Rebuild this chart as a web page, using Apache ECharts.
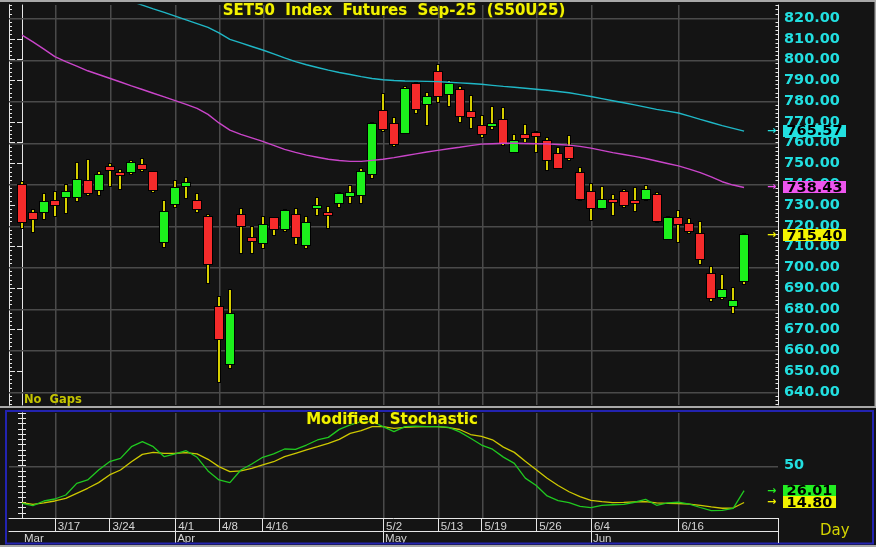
<!DOCTYPE html>
<html><head><meta charset="utf-8">
<script src="https://cdn.jsdelivr.net/npm/echarts@6/dist/echarts.min.js"></script>
<style>html,body{margin:0;padding:0;background:#141414;}#c{width:876px;height:547px;}</style>
</head><body><div id="c"></div>
<script>
// ---------- DATA ----------
const dates = ['3/12','3/13','3/14','3/17','3/18','3/19','3/20','3/21','3/24','3/25','3/26','3/27','3/28','3/31','4/1','4/2','4/3','4/4','4/8','4/9','4/10','4/11','4/16','4/17','4/18','4/21','4/22','4/23','4/24','4/25','4/28','4/29','4/30','5/2','5/6','5/7','5/8','5/9','5/13','5/14','5/15','5/16','5/19','5/20','5/21','5/22','5/23','5/26','5/27','5/28','5/29','5/30','6/4','6/5','6/6','6/9','6/10','6/11','6/12','6/13','6/16','6/17','6/18','6/19','6/20','6/23','6/24'];
const opens  = [739.6,726.0,726.6,732.1,733.7,733.7,741.6,737.2,748.1,745.2,746.0,749.3,746.0,712.2,730.6,739.3,732.1,724.1,680.9,653.6,725.0,714.2,711.7,723.6,718.5,725.0,710.8,728.7,726.2,731.1,734.3,734.8,744.8,775.2,769.0,764.8,788.1,778.8,794.2,783.4,785.2,774.6,768.0,768.2,771.1,755.7,763.7,764.7,761.0,754.6,758.1,745.3,736.3,728.7,732.4,736.1,731.9,733.0,734.7,713.8,723.6,721.0,716.1,696.9,685.7,681.3,693.6];
const closes = [721.7,723.3,731.6,730.2,736.1,742.0,735.6,744.6,746.7,744.6,750.1,747.2,737.2,726.6,738.0,740.6,728.2,701.8,665.4,677.6,719.8,712.9,720.5,718.3,727.1,714.8,721.5,729.7,725.2,735.1,735.6,746.0,768.8,766.7,759.2,785.7,776.1,782.1,782.5,788.1,772.8,772.4,764.3,769.2,760.0,760.6,762.3,763.2,751.8,747.7,752.8,732.8,728.7,732.4,731.3,730.2,731.4,737.1,722.3,723.6,720.7,717.7,704.2,685.3,689.0,684.0,715.4];
const lows   = [719.1,717.2,723.3,724.7,726.2,732.1,735.0,734.7,739.2,737.6,745.1,746.2,736.1,709.6,728.9,733.2,726.6,692.3,644.7,651.7,706.8,706.8,709.2,715.7,717.7,711.2,709.2,725.2,718.8,729.2,731.1,731.1,742.9,765.5,758.4,764.8,774.4,768.4,779.4,777.8,769.8,766.9,762.7,766.4,758.7,755.7,760.2,755.7,746.9,747.7,751.8,732.4,722.8,727.9,725.2,728.9,727.3,732.3,721.8,713.8,712.2,716.4,701.8,683.8,684.6,677.9,691.9];
const highs  = [740.9,727.5,735.1,736.1,739.6,750.1,751.7,745.7,749.7,746.7,751.2,752.1,746.0,732.1,741.6,743.1,735.1,725.0,685.9,689.1,728.1,719.6,724.1,723.6,727.6,728.1,724.1,733.2,729.2,735.6,739.2,747.2,769.3,783.4,772.0,787.0,788.6,784.1,797.4,789.7,786.7,782.6,773.0,777.2,776.5,763.5,768.7,765.3,762.1,757.6,763.2,747.7,740.1,738.5,734.7,737.1,738.0,739.2,735.6,724.4,727.3,723.1,722.0,700.2,696.2,689.9,716.2];
const maMagenta = [811.8,808.5,805.0,801.4,799.0,796.8,794.6,792.8,791.0,789.2,787.3,785.6,783.8,782.0,780.2,778.4,776.5,773.6,769.5,766.0,764.0,762.3,760.6,758.7,756.8,755.3,754.0,753.0,752.0,751.4,751.0,751.0,751.5,752.0,752.8,753.7,754.6,755.5,756.3,757.1,757.8,758.6,759.3,759.5,759.7,759.7,759.6,759.5,759.4,759.1,758.8,758.2,757.4,756.3,755.2,754.3,753.4,752.4,751.2,750.0,748.8,747.3,745.6,743.5,741.2,739.6,738.43];
const maCyan = [null,null,null,null,null,null,null,null,null,null,828.0,826.2,824.4,822.7,820.9,819.1,817.3,815.5,812.8,809.7,808.0,806.3,804.6,802.7,800.8,799.0,797.5,796.2,794.9,793.8,792.8,791.8,790.9,790.3,789.9,789.7,789.6,789.5,789.4,789.1,788.8,788.5,788.1,787.6,787.1,786.7,786.2,785.7,785.2,784.6,784.0,783.1,782.2,781.2,780.2,779.2,778.2,777.1,776.0,775.2,774.3,772.8,771.2,769.7,768.2,766.9,765.57];
const stochK = [14.0,11.8,16.2,18.1,21.9,33.0,36.2,45.7,53.6,56.8,67.9,72.7,67.9,58.4,61.0,64.1,57.8,44.8,36.2,33.7,45.7,51.4,57.8,61.0,65.7,65.4,69.5,74.3,76.8,84.4,88.6,91.7,91.7,87.0,82.2,87.0,87.5,87.0,87.0,86.3,82.0,75.9,69.5,65.5,58.0,52.0,38.0,31.0,21.0,16.5,14.6,11.0,9.8,12.1,12.6,13.0,15.0,17.8,12.1,14.5,15.0,13.3,10.0,7.0,7.2,9.2,26.01];
const stochD = [14.6,13.0,14.5,16.2,18.7,23.5,28.3,33.7,41.0,45.7,53.6,60.6,62.5,61.6,61.6,62.2,61.0,55.9,48.9,44.1,44.8,47.3,50.5,53.6,58.4,61.6,64.8,67.9,71.1,74.9,80.6,83.2,87.0,87.0,85.4,86.3,86.8,87.0,87.0,86.0,84.3,79.5,77.8,74.5,67.5,62.5,54.0,46.0,37.8,31.0,25.0,20.3,16.8,15.5,14.6,14.8,15.3,15.5,14.5,14.0,13.8,13.3,12.0,10.5,9.3,9.5,14.80];
const dateTickLabels = ['3/17','3/24','4/1','4/8','4/16','5/2','5/13','5/19','5/26','6/4','6/16'];
const monthLabels = ['Mar','Apr','May','Jun'];
const monthFirstDays = ['3/12','4/1','5/2','6/4'];
const priceLabels = [640,650,660,670,680,690,700,710,720,730,740,750,760,770,780,790,800,810,820];
const priceGrid = [640,660,680,700,720,740,760,780,800,820];
const stochLabels = [50];
const stochGrid = [50];

// ---------- DERIVED ----------
const N = dates.length;
const candleRows = dates.map((d, i) => [i, opens[i], closes[i], lows[i], highs[i]]);
const pairs = arr => arr.map((v, i) => [i, v]);
const dateTickIdx = dateTickLabels.map(d => dates.indexOf(d));
const monthIdx = monthFirstDays.map(d => dates.indexOf(d));
const minorPrice = []; for (let v = 634; v <= 826; v += 2) minorPrice.push(v);
const stochTicks = []; for (let v = 0; v <= 100; v += 5) stochTicks.push(v);

const xMin = -1.19, xMax = 69.1;
const yMin = 633.74, yMax = 826.26;
const WHITE = '#e6e6e6';
const GRIDC = '#4a4a4a';
const CYAN_TXT = '#22dfe0';
const G0 = {left: 9, top: 5, width: 769, height: 400};
const G1 = {left: 9, top: 413, width: 769, height: 105};

const chart = echarts.init(document.getElementById('c'), null, {renderer: 'canvas'});

function yAx(grid, pos, min, max, tickVals, tickLen, labelVals) {
  return {
    gridIndex: grid, type: 'value', position: pos, min: min, max: max,
    axisLine: {show: true, lineStyle: {color: WHITE, width: 1}},
    axisTick: {show: true, inside: true, length: tickLen, customValues: tickVals, lineStyle: {color: WHITE, width: 1}},
    axisLabel: labelVals ? {show: true, customValues: labelVals,
      formatter: v => (grid === 0 ? Number(v).toFixed(2) : String(v)),
      color: CYAN_TXT, fontFamily: 'DejaVu Sans', fontWeight: 'bold', fontSize: 14.5, margin: 6} : {show: false},
    splitLine: {show: false}
  };
}

const option = {
  animation: false,
  backgroundColor: '#141414',
  grid: [G0, G1],
  xAxis: [
    {gridIndex: 0, type: 'value', min: xMin, max: xMax, show: false},
    {gridIndex: 1, type: 'value', min: xMin, max: xMax, position: 'bottom',
      axisLine: {show: true, onZero: false, lineStyle: {color: WHITE}},
      axisTick: {show: true, inside: false, length: 13, customValues: dateTickIdx, lineStyle: {color: WHITE}},
      axisLabel: {show: true, customValues: dateTickIdx, formatter: v => dates[Math.round(v)],
        align: 'left', padding: [0, 0, 0, 3], margin: 3, color: '#d4d4d4', fontFamily: 'Liberation Sans', fontSize: 11.5},
      splitLine: {show: false}},
    {gridIndex: 1, type: 'value', min: xMin, max: xMax, position: 'bottom', offset: 13,
      axisLine: {show: true, onZero: false, lineStyle: {color: WHITE}},
      axisTick: {show: true, inside: false, length: 12, customValues: monthIdx.slice(1), lineStyle: {color: WHITE}},
      axisLabel: {show: true, customValues: monthIdx, formatter: v => monthLabels[monthIdx.indexOf(Math.round(v))],
        align: 'left', padding: [0, 0, 0, 2], margin: 2, color: '#d4d4d4', fontFamily: 'Liberation Sans', fontSize: 11.5},
      splitLine: {show: false}}
  ],
  yAxis: [
    yAx(0, 'right', yMin, yMax, priceLabels, 5, priceLabels),
    yAx(0, 'right', yMin, yMax, minorPrice, 2.5, null),
    yAx(0, 'left', yMin, yMax, priceLabels, 6, null),
    yAx(0, 'left', yMin, yMax, minorPrice, 3, null),
    yAx(1, 'right', 0, 100, stochTicks, 4, stochLabels),
    yAx(1, 'left', 0, 100, stochTicks, 4, null)
  ],
  series: [
    {type: 'custom', xAxisIndex: 0, yAxisIndex: 0, z: 3, data: candleRows,
      encode: {x: 0, y: [1, 2, 3, 4]},
      renderItem: function (params, api) {
        const i = api.value(0), o = api.value(1), c = api.value(2), l = api.value(3), h = api.value(4);
        const pO = api.coord([i, o]), pC = api.coord([i, c]), pL = api.coord([i, l]), pH = api.coord([i, h]);
        const cx = Math.round(pO[0]);
        let top = Math.round(Math.min(pO[1], pC[1]));
        let bot = Math.round(Math.max(pO[1], pC[1]));
        if (bot - top < 2) bot = top + 2;
        const yH = Math.round(pH[1]), yL = Math.round(pL[1]);
        const col = c >= o ? '#1cf01c' : '#f52b2b';
        return {type: 'group', children: [
          {type: 'rect', shape: {x: cx - 2, y: yH - 1, width: 4, height: yL - yH + 2}, style: {fill: '#000'}},
          {type: 'rect', shape: {x: cx - 1, y: yH, width: 2, height: yL - yH}, style: {fill: '#d6cf00'}},
          {type: 'rect', shape: {x: cx - 5, y: top - 1, width: 10, height: bot - top + 2}, style: {fill: '#000'}},
          {type: 'rect', shape: {x: cx - 4, y: top, width: 8, height: bot - top}, style: {fill: col}}
        ]};
      }},
    {type: 'line', name: 'MA1', xAxisIndex: 0, yAxisIndex: 0, data: pairs(maMagenta), showSymbol: false, z: 5,
      lineStyle: {color: '#c945c9', width: 1.4}, clip: true},
    {type: 'line', name: 'MA2', xAxisIndex: 0, yAxisIndex: 0, data: pairs(maCyan), showSymbol: false, z: 5, connectNulls: false,
      lineStyle: {color: '#1fb7c6', width: 1.4}, clip: true},
    {type: 'line', name: '%D', xAxisIndex: 1, yAxisIndex: 4, data: pairs(stochD), showSymbol: false, z: 5,
      lineStyle: {color: '#cdc800', width: 1.3}},
    {type: 'line', name: '%K', xAxisIndex: 1, yAxisIndex: 4, data: pairs(stochK), showSymbol: false, z: 6,
      lineStyle: {color: '#20c820', width: 1.3}}
  ]
};
chart.setOption(option);

// ---------- GRID LINES (through the axes' scales), DECORATION & VALUE TAGS ----------
const g = [];
function hLine(axisIdx, v, G) {
  const y = Math.round(chart.convertToPixel({yAxisIndex: axisIdx}, v));
  g.push({type: 'rect', z: 1, silent: true, shape: {x: G.left, y: y, width: G.width, height: 1.5}, style: {fill: GRIDC}});
}
function vLine(axisIdx, i, G) {
  const x = Math.round(chart.convertToPixel({xAxisIndex: axisIdx}, i));
  g.push({type: 'rect', z: 1, silent: true, shape: {x: x, y: G.top, width: 1.5, height: G.height}, style: {fill: GRIDC}});
}
priceGrid.forEach(v => hLine(0, v, G0));
dateTickIdx.forEach(i => vLine(0, i, G0));
stochGrid.forEach(v => hLine(4, v, G1));
dateTickIdx.forEach(i => vLine(1, i, G1));

g.push(
  {type: 'rect', z: 50, shape: {x: 0, y: 0, width: 876, height: 2}, style: {fill: '#a8a8a8'}},
  {type: 'rect', z: 50, shape: {x: 0, y: 406, width: 876, height: 2}, style: {fill: '#a8a8a8'}},
  {type: 'rect', z: 50, shape: {x: 874.5, y: 0, width: 1.5, height: 408}, style: {fill: '#a8a8a8'}},
  {type: 'rect', z: 50, shape: {x: 0, y: 545, width: 876, height: 2}, style: {fill: '#a8a8a8'}},
  {type: 'rect', z: 50, shape: {x: 6, y: 411, width: 867, height: 132.5}, style: {fill: 'none', stroke: '#2323b0', lineWidth: 2}},
  {type: 'line', z: 50, shape: {x1: 778.5, y1: 518, x2: 778.5, y2: 543}, style: {stroke: WHITE, lineWidth: 1}},
  {type: 'text', z: 60, x: 394, y: 11, style: {text: 'SET50  Index  Futures  Sep-25  (S50U25)', fill: '#f2f200',
    font: 'bold 15px "DejaVu Sans"', textAlign: 'center', textVerticalAlign: 'middle', stroke: '#2a2a00', lineWidth: 1}},
  {type: 'text', z: 60, x: 24, y: 400, style: {text: 'No  Gaps', fill: '#c4c400',
    font: 'bold 11.5px "DejaVu Sans"', textAlign: 'left', textVerticalAlign: 'middle'}},
  {type: 'text', z: 60, x: 392, y: 420, style: {text: 'Modified  Stochastic', fill: '#f2f200',
    font: 'bold 15px "DejaVu Sans"', textAlign: 'center', textVerticalAlign: 'middle', stroke: '#2a2a00', lineWidth: 1}},
  {type: 'text', z: 60, x: 820, y: 531, style: {text: 'Day', fill: '#d4d400',
    font: '15px "DejaVu Sans"', textAlign: 'left', textVerticalAlign: 'middle'}}
);

function tag(axisIdx, value, color, boxW) {
  const y = chart.convertToPixel({yAxisIndex: axisIdx}, value);
  g.push({type: 'text', z: 70, x: 767, y: y, style: {text: '→', fill: color, font: 'bold 11px "DejaVu Sans"', textAlign: 'left', textVerticalAlign: 'middle'}});
  g.push({type: 'rect', z: 70, shape: {x: 783, y: Math.round(y) - 6, width: boxW, height: 12}, style: {fill: color}});
  g.push({type: 'text', z: 71, x: 783 + boxW / 2, y: y + 0.5, style: {text: value.toFixed(2), fill: '#000',
    font: 'bold 14.5px "DejaVu Sans"', textAlign: 'center', textVerticalAlign: 'middle'}});
}
tag(0, maCyan[N - 1], '#22e0e0', 63);
tag(0, maMagenta[N - 1], '#ee55ee', 63);
tag(0, closes[N - 1], '#f2f200', 63);
tag(4, stochK[N - 1], '#22ee22', 53);
tag(4, stochD[N - 1], '#f2f200', 53);

chart.setOption({graphic: g});
</script></body></html>
